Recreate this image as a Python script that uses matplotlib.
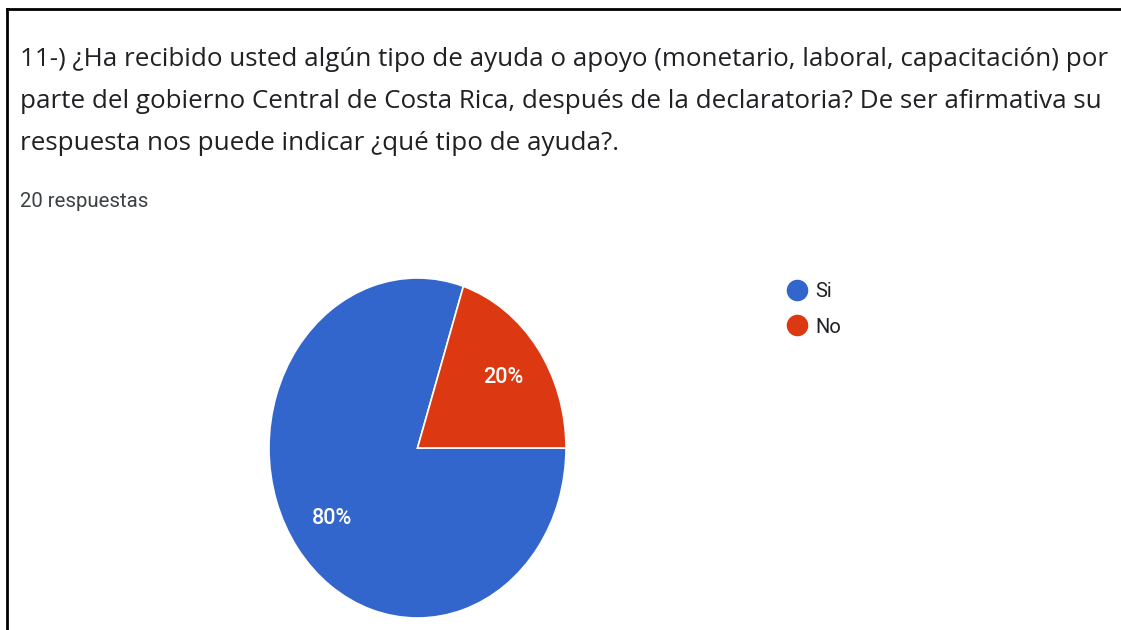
import matplotlib.pyplot as plt
from matplotlib.lines import Line2D

W, H = 1121, 630

title_lines = [
    "11-) ¿Ha recibido usted algún tipo de ayuda o apoyo (monetario, laboral, capacitación) por",
    "parte del gobierno Central de Costa Rica, después de la declaratoria? De ser afirmativa su",
    "respuesta nos puede indicar ¿qué tipo de ayuda?.",
]
subtitle = "20 respuestas"

labels = ["Si", "No"]
values = [80, 20]
colors = ["#3366CC", "#DC3912"]

plt.rcParams['font.family'] = ['Roboto', 'DejaVu Sans']

fig = plt.figure(figsize=(W / 100, H / 100), dpi=100)
fig.patch.set_facecolor('white')


def fx(x):
    return x / W


def fy(y):
    return 1 - y / H


# border of the card (top and left only)
fig.add_artist(Line2D([fx(7), fx(W)], [fy(9), fy(9)], color='black', lw=2))
fig.add_artist(Line2D([fx(7), fx(7)], [fy(9), fy(H)], color='black', lw=2))

for i, line in enumerate(title_lines):
    fig.text(fx(20), fy(66 + i * 42), line, fontsize=18.7, color='#202124',
             family=['Open Sans', 'DejaVu Sans'], va='baseline', ha='left')

fig.text(fx(20), fy(207), subtitle, fontsize=14.7, color='#3c4043',
         va='baseline', ha='left')

# pie axes: stretched box so the pie is a bit taller than wide, like the shot
ax = fig.add_axes([fx(269), fy(618), (566 - 269) / W, (618 - 278) / H])
wedges, texts, autotexts = ax.pie(
    values, colors=colors, startangle=0, counterclock=False,
    autopct='%1.0f%%', pctdistance=0.71,
    wedgeprops=dict(edgecolor='white', linewidth=1.2),
    textprops=dict(color='white', fontsize=15.5, fontweight='medium'))
ax.set_aspect('auto')
ax.set_xlim(-1, 1)
ax.set_ylim(-1, 1)
ax.axis('off')

handles = [Line2D([], [], marker='o', linestyle='none', markersize=14.5,
                  markerfacecolor=c, markeredgecolor=c) for c in colors]
fig.legend(handles, labels, loc='upper left',
           bbox_to_anchor=(fx(787), fy(282)), frameon=False,
           fontsize=14.5, handlelength=1.0, handletextpad=0.4,
           labelspacing=0.82, borderpad=0, borderaxespad=0,
           labelcolor='#202124')

fig.savefig('out.png', dpi=100)
